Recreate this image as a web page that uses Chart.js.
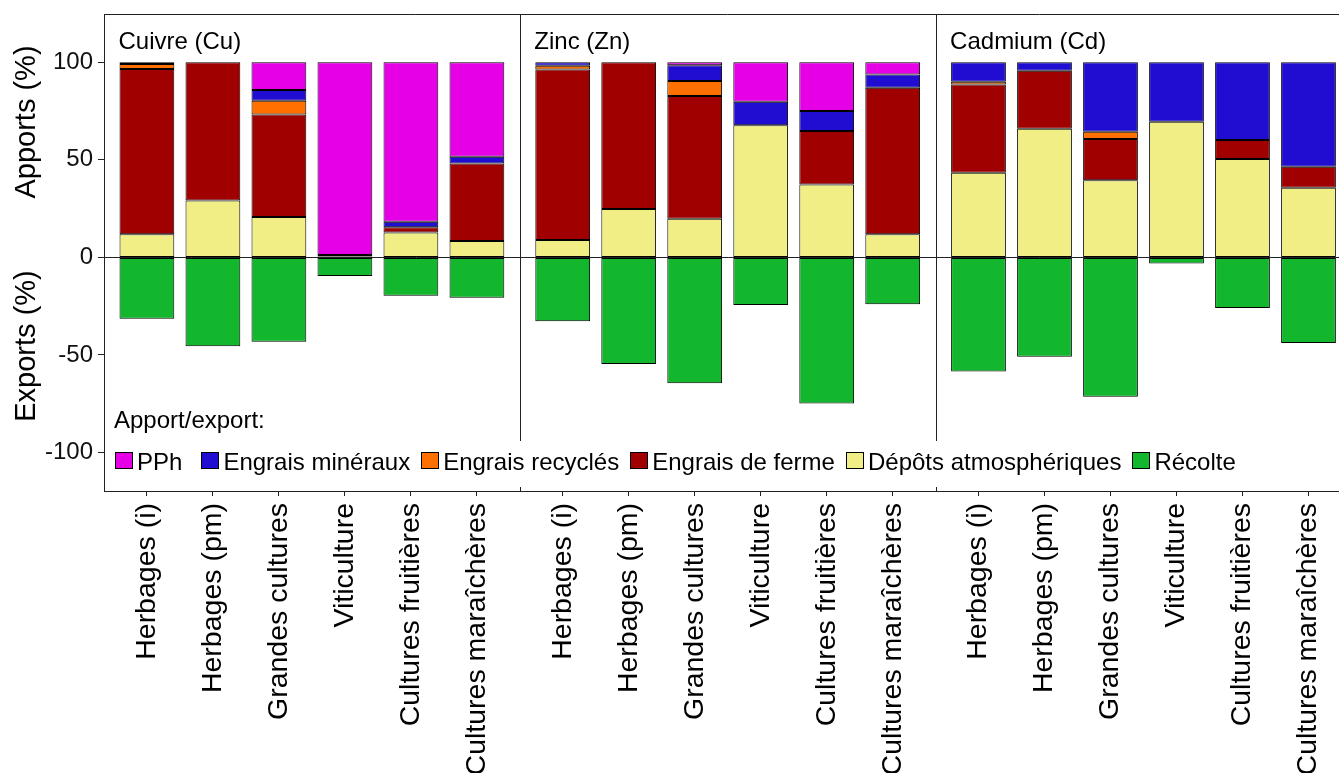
<!DOCTYPE html>
<html lang="fr">
<head>
<meta charset="utf-8">
<title>Apports et exports de Cu, Zn et Cd par type de culture</title>
<script src="https://cdn.jsdelivr.net/npm/chart.js@4/dist/chart.umd.min.js"></script>
<style>
  html, body { margin: 0; padding: 0; background: #fff; overflow: hidden; }
  #wrap { position: relative; width: 1339px; height: 773px; overflow: hidden; background: #fff; }
  #chart { position: absolute; left: 0; top: 0; }
  .lg { font-family: "Liberation Sans", Arial, sans-serif; font-size: 24px; color: #000; line-height: 24px; }
  #legendTitle { position: absolute; left: 114px; top: 408px; white-space: nowrap; }
  #legend { position: absolute; left: 107px; top: 441px; width: 1133px; height: 46px; background: #fff; }
  #legendRow { position: absolute; left: 8px; top: 9px; display: flex; align-items: center; white-space: nowrap; }
  .item { display: flex; align-items: center; margin-right: 11px; }
  .item:first-child { margin-right: 19px; }
  .key { width: 18px; height: 17px; box-sizing: border-box; border: 1px solid #000; margin-right: 4px; position: relative; top: -2px; }
</style>
</head>
<body>
<div id="wrap">
  <canvas id="chart" width="1360" height="800"></canvas>
  <div id="legendTitle" class="lg">Apport/export:</div>
  <div id="legend" class="lg"><div id="legendRow"></div></div>
</div>
<script>
// Categories (x axis) and facets
const categories = ['Herbages (i)', 'Herbages (pm)', 'Grandes cultures', 'Viticulture', 'Cultures fruitières', 'Cultures maraîchères'];
const panelTitles = ['Cuivre (Cu)', 'Zinc (Zn)', 'Cadmium (Cd)'];
const yTicks = [-100, -50, 0, 50, 100];

// Shares in %, 18 values each: Cu (6 categories), then Zn, then Cd
const depotsAtmo      = [11.8, 29.2, 20.7, 0.4, 12.8, 8.4,   8.9, 24.8, 19.8, 67.8, 37.4, 11.9,   43.4, 66.0, 39.5, 69.5, 50.4, 35.7];
const engraisFerme    = [84.8, 70.8, 52.6, 0.8, 2.7, 39.8,   87.5, 75.2, 62.9, 0, 27.4, 75.1,     45.3, 29.7, 21.2, 0, 9.8, 10.8];
const engraisRecycles = [2.6, 0, 7.0, 0, 0, 0,               1.9, 0, 7.7, 0, 0, 0,                1.4, 0, 3.7, 0, 0, 0];
const engraisMineraux = [0.8, 0, 5.5, 0, 2.8, 3.4,           1.7, 0, 8.1, 12.0, 10.2, 6.8,        9.9, 4.3, 35.6, 30.5, 39.8, 53.5];
const pph             = [0, 0, 14.2, 98.8, 81.7, 48.4,       0, 0, 1.5, 20.2, 25.0, 6.2,          0, 0, 0, 0, 0, 0];
const recolte         = [-31.5, -45.6, -43.3, -9.6, -19.7, -20.7,   -32.8, -54.7, -64.6, -24.4, -74.9, -24.1,   -58.5, -50.9, -71.5, -3.2, -26.0, -43.9];

// Legend order (top of stack first) and fill colours
const seriesNames   = ['PPh', 'Engrais minéraux', 'Engrais recyclés', 'Engrais de ferme', 'Dépôts atmosphériques', 'Récolte'];
const seriesColours = ['#E500E5', '#210CD2', '#FF7000', '#A00000', '#F0EE84', '#12B72E'];
const seriesValues  = [pph, engraisMineraux, engraisRecycles, engraisFerme, depotsAtmo, recolte];

// Facet geometry in category units
const SPAN = 6.3;   // width of one facet
const PAD = 0.65;   // space before first / after last category of a facet
const nCat = categories.length;
const xOf = k => Math.floor(k / nCat) * SPAN + (k % nCat);
const xTickValues = [];
for (let k = 0; k < panelTitles.length * nCat; k++) xTickValues.push(xOf(k));

const FONT = '"Liberation Sans", Arial, sans-serif';

// Stack from the bottom: dépôts, ferme, recyclés, minéraux, PPh; récolte below zero
const stackOrder = [4, 3, 2, 1, 0, 5];
const datasets = stackOrder.map(s => ({
  label: seriesNames[s],
  data: seriesValues[s].map((v, k) => ({ x: xOf(k), y: v === 0 ? null : v })),
  backgroundColor: seriesColours[s],
  borderColor: '#000',
  borderWidth: 1,
  borderSkipped: false,
  barPercentage: 0.83,
  categoryPercentage: 1
}));

const facetPlugin = {
  id: 'facets',
  afterDraw(chart) {
    const { ctx, chartArea: a, scales: { x } } = chart;
    ctx.save();
    ctx.strokeStyle = '#222';
    ctx.lineWidth = 1;
    // top and right frame
    ctx.beginPath();
    ctx.moveTo(a.left, a.top + 0.5);
    ctx.lineTo(a.right, a.top + 0.5);
    ctx.lineTo(a.right, a.bottom);
    ctx.stroke();
    // facet dividers
    for (let p = 1; p < panelTitles.length; p++) {
      const px = Math.round(x.getPixelForValue(p * SPAN - PAD)) + 0.5;
      ctx.beginPath();
      ctx.moveTo(px, a.top);
      ctx.lineTo(px, a.bottom);
      ctx.stroke();
    }
    // facet titles
    ctx.fillStyle = '#000';
    ctx.font = '24px ' + FONT;
    ctx.textAlign = 'left';
    ctx.textBaseline = 'alphabetic';
    panelTitles.forEach((t, p) => {
      ctx.fillText(t, x.getPixelForValue(p * SPAN - PAD) + 14.5, a.top + 35);
    });
    // y titles: apports above zero, exports below
    ctx.font = '29px ' + FONT;
    ctx.textAlign = 'center';
    [['Apports (%)', 122], ['Exports (%)', 346]].forEach(([t, cy]) => {
      ctx.save();
      ctx.translate(35, cy);
      ctx.rotate(-Math.PI / 2);
      ctx.fillText(t, 0, 0);
      ctx.restore();
    });
    ctx.restore();
  }
};

new Chart(document.getElementById('chart'), {
  type: 'bar',
  data: { datasets },
  options: {
    responsive: false,
    animation: false,
    events: [],
    layout: { padding: { top: 14, right: 8.6, left: 0, bottom: 0 } },
    plugins: { legend: { display: false }, tooltip: { enabled: false } },
    scales: {
      x: {
        type: 'linear',
        stacked: true,
        offset: false,
        min: -PAD,
        max: (panelTitles.length - 1) * SPAN + (nCat - 1) + PAD,
        afterBuildTicks: s => { s.ticks = xTickValues.map(v => ({ value: v })); },
        afterFit: s => { s.height = 309; s.paddingLeft = 0; s.paddingRight = 0; },
        grid: { display: true, drawOnChartArea: false, offset: false, tickLength: 5, tickColor: '#222', tickWidth: 1 },
        border: { display: true, color: '#222', width: 1 },
        ticks: {
          autoSkip: false,
          minRotation: 90,
          maxRotation: 90,
          padding: 7,
          color: '#000',
          font: { family: FONT, size: 28.5 },
          callback: (v, i) => categories[i % nCat]
        }
      },
      y: {
        stacked: true,
        min: -119.8,
        max: 124.8,
        afterBuildTicks: s => { s.ticks = yTicks.map(v => ({ value: v })); },
        afterFit: s => { s.width = 104; s.paddingTop = 0; s.paddingBottom = 0; },
        grid: {
          drawOnChartArea: true,
          color: c => (c.tick && c.tick.value === 0 ? '#222' : 'rgba(0,0,0,0)'),
          tickColor: '#222',
          tickLength: 6,
          lineWidth: 1
        },
        border: { display: true, color: '#222', width: 1 },
        ticks: {
          padding: 5,
          color: '#111',
          font: { family: FONT, size: 24 }
        }
      }
    }
  },
  plugins: [facetPlugin]
});

// Legend
const row = document.getElementById('legendRow');
seriesNames.forEach((name, s) => {
  const item = document.createElement('div');
  item.className = 'item';
  const key = document.createElement('span');
  key.className = 'key';
  key.style.background = seriesColours[s];
  const txt = document.createElement('span');
  txt.textContent = name;
  item.appendChild(key);
  item.appendChild(txt);
  row.appendChild(item);
});
</script>
</body>
</html>
